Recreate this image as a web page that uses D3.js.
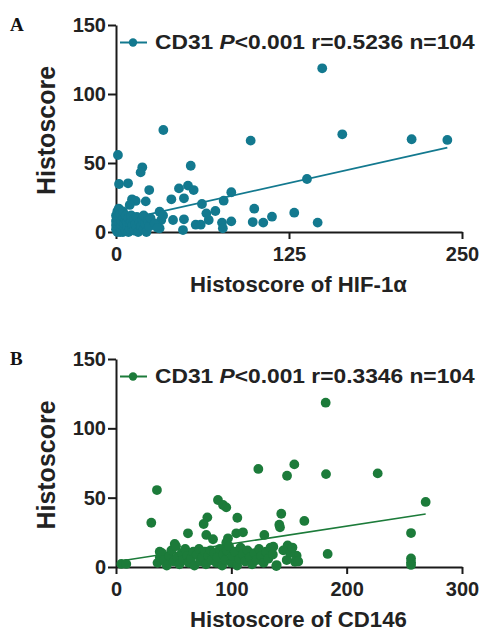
<!DOCTYPE html>
<html>
<head>
<meta charset="utf-8">
<script src="https://cdn.jsdelivr.net/npm/d3@7"></script>
<style>
  body { margin: 0; background: #fff; }
  svg { display: block; }
  .tick text { font-family: "Liberation Sans", Arial, sans-serif; font-weight: bold; font-size: 20px; fill: #222; }
</style>
</head>
<body>
<svg id="chart" width="480" height="631"></svg>
<script>
// panel A: HIF-1a vs CD31
const hifPoints = [
  [149, 118.6], [97.3, 66.2], [163.5, 70.8], [213.6, 67.2], [239.4, 66.7], [138, 38.4],
  [99.9, 16.9], [98.8, 7.2], [106.4, 6.8], [112.7, 11.1], [128.8, 14], [145.7, 6.8],
  [1.4, 55.8], [19, 46.9], [17.8, 43.2], [54, 48], [2.2, 34.8], [8.7, 35.3], [24, 30.4],
  [45.5, 31.6], [52, 33.6], [56.1, 30.4], [40, 23.7], [49.1, 24.4], [11.6, 23.7],
  [14.2, 22.5], [21.5, 22.2], [9.9, 19.6], [83.3, 28.8], [77.8, 22.7], [62.1, 20.3],
  [71.8, 15.2], [65.3, 13.5], [31.5, 14.7], [49.1, 9.2], [41.2, 8.7], [67, 8.7],
  [83.3, 7.7], [76.6, 6.8], [77.2, 2.7], [57.6, 5.3], [61.2, 5.3], [48.4, 1.4],
  [31.5, 2.7], [32.7, 8.7], [34.2, 73.9],
  [0, 2], [0, 5], [0, 8], [0, 12], [1, 0], [1, 3], [1, 6], [1, 10], [1, 15],
  [2, 1], [2, 4], [2, 7], [2, 11], [2, 17], [3, 0], [3, 3], [3, 9], [3, 13],
  [4, 2], [4, 5], [4, 8], [5, 0], [5, 11], [5, 15], [6, 3], [6, 6], [7, 1], [7, 9],
  [7, 12], [8, 4], [8, 7], [9, 0], [9, 10], [10, 2], [10, 6], [11, 8], [11, 12],
  [12, 3], [12, 5], [13, 1], [13, 9], [14, 6], [15, 3], [15, 11], [16, 0], [17, 7],
  [18, 4], [19, 9], [20, 2], [20, 12], [21, 6], [22, 0], [23, 8], [24, 4], [25, 10],
  [28, 6], [30, 3], [34, 12]
];
const hifFit = { intercept: 7.5, slope: 0.224, from: 0, to: 239.4 };
const hifXTicks = [0, 125, 250];

// panel B: CD146 vs CD31
const cd146Points = [
  [181.8, 118.5], [123.4, 70.7], [154.6, 74], [148.3, 65.8], [182.1, 67], [226.9, 67.5],
  [268.5, 46.9], [143.3, 38.4], [141.6, 30.5], [142.2, 28.6], [163.3, 33.2], [128.6, 23.1],
  [255.8, 24.5], [183.5, 9.4], [255.8, 6.2], [255.8, 3.4], [255.8, 1.5], [156.6, 8.2],
  [155.2, 3.8], [148.8, 15.6], [136.4, 14.6], [139.3, 1.4],
  [35.5, 55.5], [30.6, 31.9], [88.4, 48.3], [92.8, 44.7], [95.6, 43], [79.2, 35.8],
  [76, 31], [105.2, 35.5], [62.4, 24.3], [78.3, 23.1], [84.1, 20], [104.3, 24.3],
  [110.1, 25], [97.1, 20.7], [95.6, 17.5], [50.9, 16.6], [37.9, 11], [4.6, 2.2],
  [8.9, 2.2], [139, 0.7],
  [36, 3], [38, 7], [40, 10], [42, 5], [44, 1], [46, 8], [48, 12], [50, 4], [52, 15], [53, 7],
  [55, 2], [57, 10], [58, 5], [60, 13], [62, 8], [63, 3], [65, 6], [67, 11], [68, 1], [70, 9],
  [72, 13], [73, 4], [75, 7], [77, 11], [78, 2], [80, 8], [82, 12], [83, 5], [85, 10], [87, 3],
  [88, 7], [90, 13], [92, 1], [93, 9], [95, 5], [96, 12], [98, 15], [100, 3], [101, 8], [103, 11],
  [105, 1], [107, 6], [108, 14], [110, 9], [112, 4], [114, 12], [116, 7], [118, 2], [120, 10], [122, 5],
  [124, 13], [126, 8], [128, 3], [130, 11], [132, 6], [134, 14], [136, 9], [145, 12], [148, 5], [151, 10],
  [153, 14], [158, 4]
];
const cd146Fit = { intercept: 3.9, slope: 0.128, from: 5, to: 268.5 };
const cd146XTicks = [0, 100, 200, 300];

const yTicks = [0, 50, 100, 150];

const panels = [
  { label: 'A', points: hifPoints, fit: hifFit, xMax: 250, xTicks: hifXTicks,
    color: '#13798f', r: '0.5236', xTitle: 'Histoscore of HIF-1\u03b1', top: 25, bottom: 232 },
  { label: 'B', points: cd146Points, fit: cd146Fit, xMax: 300, xTicks: cd146XTicks,
    color: '#1c7b3a', r: '0.3346', xTitle: 'Histoscore of CD146', top: 359, bottom: 567 }
];

const svg = d3.select('#chart');
const left = 116, right = 462;
const font = '"Liberation Sans", Arial, sans-serif';

// stretch a text horizontally so it spans w pixels (the source font is wider)
function fitWidth(text, x0, y0, w) {
  const len = text.node().getComputedTextLength();
  text.attr('transform', `translate(${x0},${y0}) scale(${w / len},1)`);
}

panels.forEach(p => {
  const x = d3.scaleLinear().domain([0, p.xMax]).range([left, right]);
  const y = d3.scaleLinear().domain([0, 150]).range([p.bottom, p.top]);
  const g = svg.append('g');

  // axes
  const yAxis = g.append('g')
    .attr('transform', `translate(${left},0)`)
    .call(d3.axisLeft(y).tickValues(yTicks).tickSize(8).tickPadding(2).tickSizeOuter(0));
  const xAxis = g.append('g')
    .attr('transform', `translate(0,${p.bottom})`)
    .call(d3.axisBottom(x).tickValues(p.xTicks).tickSize(7).tickPadding(8).tickSizeOuter(0));
  [xAxis, yAxis].forEach(a => {
    a.selectAll('path, line').attr('stroke', '#1a1a1a').attr('stroke-width', 2);
  });

  // fit line
  g.append('line')
    .attr('x1', x(p.fit.from)).attr('y1', y(p.fit.intercept + p.fit.slope * p.fit.from))
    .attr('x2', x(p.fit.to)).attr('y2', y(p.fit.intercept + p.fit.slope * p.fit.to))
    .attr('stroke', p.color).attr('stroke-width', 1.6);

  // points
  g.append('g')
    .selectAll('circle')
    .data(p.points)
    .join('circle')
    .attr('cx', d => x(d[0]))
    .attr('cy', d => y(d[1]))
    .attr('r', 4.9)
    .attr('fill', p.color);

  // legend
  const ly = p.top + 17.5;
  g.append('line').attr('x1', 120).attr('x2', 147).attr('y1', ly).attr('y2', ly)
    .attr('stroke', p.color).attr('stroke-width', 2);
  g.append('circle').attr('cx', 133).attr('cy', ly).attr('r', 4.2).attr('fill', p.color);
  const lt = g.append('text')
    .attr('font-family', font).attr('font-weight', 'bold').attr('font-size', 19.5).attr('fill', '#222');
  lt.append('tspan').text('CD31 ');
  lt.append('tspan').attr('font-style', 'italic').text('P');
  lt.append('tspan').text(`<0.001 r=${p.r} n=104`);
  fitWidth(lt, 155, ly + 6.5, 320);

  // titles
  g.append('text')
    .attr('transform', `translate(55,${(p.top + p.bottom) / 2 + 2}) rotate(-90)`)
    .attr('text-anchor', 'middle')
    .attr('font-family', font).attr('font-weight', 'bold').attr('font-size', 25).attr('fill', '#222')
    .text('Histoscore');
  const xt = g.append('text')
    .attr('font-family', font).attr('font-weight', 'bold').attr('font-size', 21.5).attr('fill', '#222')
    .text(p.xTitle);
  fitWidth(xt, 190, p.bottom + 60, 217);

  // panel letter
  g.append('text')
    .attr('x', 10).attr('y', p.top + 6)
    .attr('font-family', '"Liberation Serif", "Times New Roman", serif').attr('font-weight', 'bold')
    .attr('font-size', 19).attr('fill', '#111')
    .text(p.label);
});
</script>
</body>
</html>
